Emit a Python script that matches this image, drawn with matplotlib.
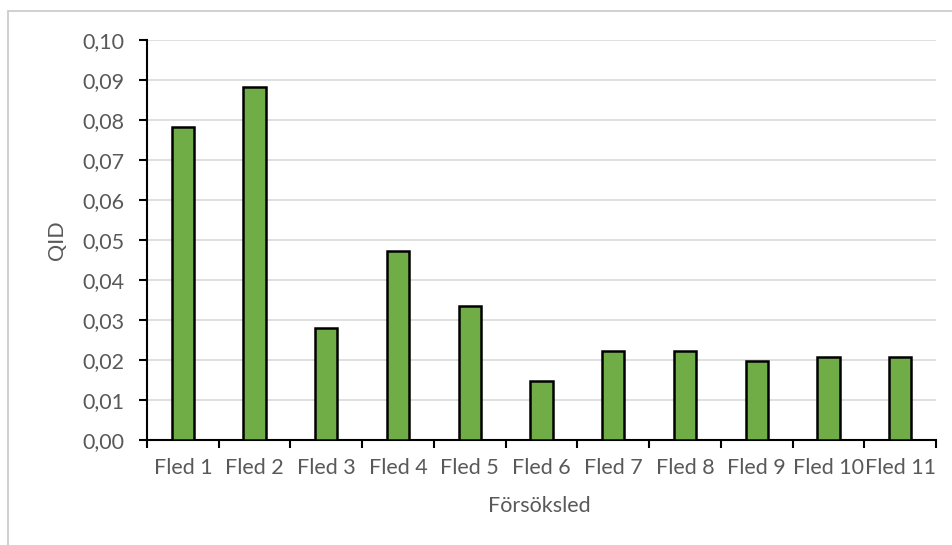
import matplotlib
matplotlib.use("Agg")
import matplotlib.pyplot as plt
from matplotlib.patches import Rectangle
from matplotlib.ticker import FixedLocator, FuncFormatter

categories = ["Fled 1", "Fled 2", "Fled 3", "Fled 4", "Fled 5", "Fled 6",
              "Fled 7", "Fled 8", "Fled 9", "Fled 10", "Fled 11"]
qid = [0.0783, 0.0882, 0.0279, 0.0473, 0.0336, 0.0147,
       0.0222, 0.0222, 0.0198, 0.0207, 0.0207]
yticks = [0.00, 0.01, 0.02, 0.03, 0.04, 0.05, 0.06, 0.07, 0.08, 0.09, 0.10]

plt.rcParams['font.family'] = ['Lato', 'DejaVu Sans']
text_color = "#595959"
fs = 15.5

fig = plt.figure(figsize=(9.52, 5.45), dpi=100)
# outer chart border
fig.patches.append(Rectangle((8/952, -0.05), 1.0, 1 - 11/545 + 0.05,
                             transform=fig.transFigure, fill=False,
                             edgecolor="#c8c8c8", linewidth=1.2))

ax = fig.add_axes([147/952, 1 - 440/545, (936 - 147)/952, 400/545])
x = list(range(len(categories)))
ax.bar(x, qid, width=0.31, color="#70ad47", edgecolor="black", linewidth=1.8, zorder=3)

ax.set_xlim(-0.5, len(categories) - 0.5)
ax.set_ylim(0, 0.10)
ax.set_yticks(yticks)
ax.yaxis.set_major_formatter(FuncFormatter(lambda v, p: f"{v:.2f}".replace(".", ",")))
ax.grid(axis="y", color="#d9d9d9", linewidth=1.2, zorder=0)
ax.set_axisbelow(True)

ax.xaxis.set_major_locator(FixedLocator([i - 0.5 for i in range(len(categories) + 1)]))
ax.xaxis.set_major_formatter(FuncFormatter(lambda v, p: ""))
ax.set_xticks(x, minor=True)
ax.set_xticklabels(categories, minor=True)
ax.tick_params(axis="x", which="major", length=6, width=1.5, color="black", direction="out")
ax.tick_params(axis="x", which="minor", length=0, pad=13, labelsize=fs, labelcolor=text_color)
ax.tick_params(axis="y", length=6, width=1.5, color="black", direction="out",
               labelsize=fs, labelcolor=text_color, pad=10)

for s in ["top", "right"]:
    ax.spines[s].set_visible(False)
ax.spines["left"].set_linewidth(1.5)
ax.spines["bottom"].set_linewidth(1.5)

ax.set_xlabel("Försöksled", fontsize=fs, color=text_color, va="center")
ax.xaxis.set_label_coords(0.497, -0.165)
ax.set_ylabel("QID", fontsize=fs, color=text_color, va="center")
ax.yaxis.set_label_coords(-0.114, 0.5)

fig.savefig("out.png", dpi=100)
